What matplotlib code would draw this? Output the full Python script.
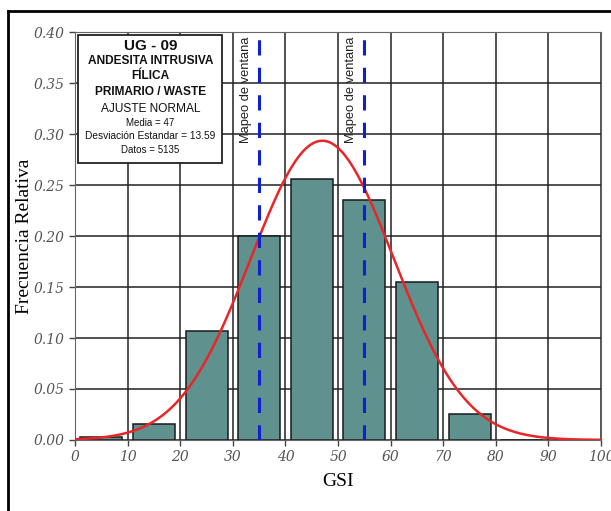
import matplotlib.pyplot as plt
import numpy as np
from matplotlib.lines import Line2D

# histogram of GSI (bins of 10) and normal fit parameters
bin_centers = [5, 15, 25, 35, 45, 55, 65, 75, 85, 95]
rel_freq = [0.003, 0.016, 0.107, 0.200, 0.256, 0.235, 0.155, 0.025, 0.0, 0.0]
media = 47
desv = 13.59
datos = 5135
bin_width = 10
ventanas = [35, 55]

x_ticks = [0, 10, 20, 30, 40, 50, 60, 70, 80, 90, 100]
y_ticks = [0.00, 0.05, 0.10, 0.15, 0.20, 0.25, 0.30, 0.35, 0.40]

fig = plt.figure(figsize=(6.11, 5.11), dpi=100)
ax = fig.add_axes([0.1228, 0.139, 0.861, 0.798])

# outer frame (only left and top visible in the original)
fig.add_artist(Line2D([0.013, 0.013], [0.0, 0.979], color="black", lw=2, transform=fig.transFigure))
fig.add_artist(Line2D([0.013, 1.0], [0.979, 0.979], color="black", lw=2, transform=fig.transFigure))

ax.set_xlim(0, 100)
ax.set_ylim(0, 0.40)
ax.set_xticks(x_ticks)
ax.set_yticks(y_ticks)
ax.grid(True, color="#222222", lw=1.1)
ax.set_axisbelow(True)

ax.bar(bin_centers, rel_freq, width=8, color="#5f928e", edgecolor="#1a1a1a", lw=1.1, zorder=2)

# normal fit scaled to bin width
xs = np.linspace(0, 100, 400)
ys = bin_width * np.exp(-0.5 * ((xs - media) / desv) ** 2) / (desv * np.sqrt(2 * np.pi))
ax.plot(xs, ys, color="#e8262a", lw=1.8, zorder=3)

for v in ventanas:
    ax.axvline(v, color="#1020d0", lw=2.2, ls=(0, (5, 4)), zorder=4)
    ax.text(v - 2.5, 0.396, "Mapeo de ventana", rotation=90, ha="center", va="top",
            fontsize=9.3, color="#222222", zorder=5, family="Liberation Sans")

tick_font = dict(family="DejaVu Serif", style="italic", size=10, color="#555555")
ax.set_xticklabels([str(t) for t in x_ticks], **tick_font)
ax.set_yticklabels(["%.2f" % t for t in y_ticks], **tick_font)
ax.tick_params(length=4, width=1, color="#444444")

ax.set_xlabel("GSI", family="Liberation Serif", fontsize=14, labelpad=6)
ax.set_ylabel("Frecuencia Relativa", family="Liberation Serif", fontsize=14)
ax.yaxis.set_label_coords(-0.08, 0.5)
for s in ax.spines.values():
    s.set_color("#666666")

# info box
box = plt.Rectangle((0.6, 0.2716), 27.3, 0.1254, facecolor="white", edgecolor="#222222", lw=1.3, zorder=6)
ax.add_patch(box)
cx = 14.3
lines = [
    ("UG - 09", 0.386, 11, "bold"),
    ("ANDESITA INTRUSIVA", 0.372, 8.6, "bold"),
    ("FÍLICA", 0.357, 8.6, "bold"),
    ("PRIMARIO / WASTE", 0.341, 8.6, "bold"),
    ("AJUSTE NORMAL", 0.325, 8.6, "normal"),
    ("Media = %d" % media, 0.311, 7, "normal"),
    ("Desviación Estandar = %.2f" % desv, 0.298, 7.3, "normal"),
    ("Datos = %d" % datos, 0.284, 7, "normal"),
]
for txt, y, fs, w in lines:
    ax.text(cx, y, txt, ha="center", va="center", fontsize=fs, fontweight=w,
            family="Liberation Sans", color="#111111", zorder=7)

fig.savefig("out.png", dpi=100)
